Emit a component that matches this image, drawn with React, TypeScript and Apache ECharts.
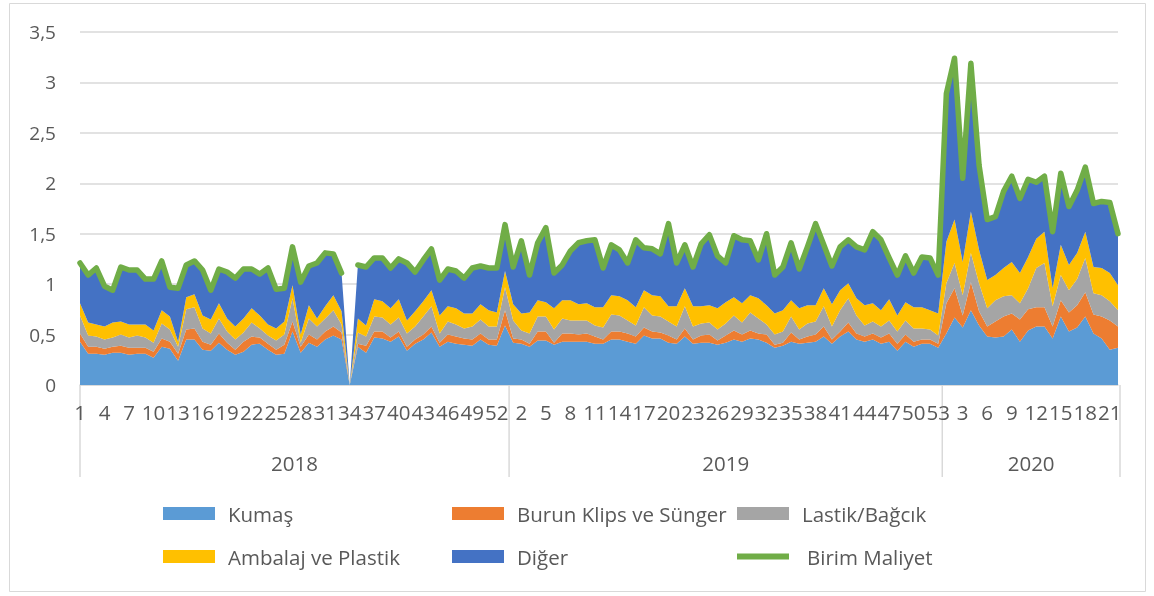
import React, { useEffect, useRef } from "react";
import * as echarts from "echarts";

const years = ["2018", "2019", "2020"];
const weeksPerYear = [53, 53, 22];

const kumas = [
  0.43, 0.31, 0.31, 0.30, 0.32, 0.32, 0.30, 0.31, 0.31, 0.27, 0.38, 0.36, 0.24, 0.45, 0.45, 0.35, 0.34, 0.42, 0.35, 0.30,
  0.33, 0.40, 0.41, 0.35, 0.30, 0.31, 0.53, 0.32, 0.42, 0.38, 0.45, 0.49, 0.45, 0, 0.38, 0.32, 0.47, 0.46, 0.43, 0.48,
  0.34, 0.41, 0.45, 0.52, 0.38, 0.43, 0.41, 0.40, 0.39, 0.45, 0.40, 0.39, 0.59,
  0.42, 0.41, 0.38, 0.44, 0.44, 0.40, 0.43, 0.43, 0.43, 0.43, 0.41, 0.41, 0.45, 0.45, 0.43, 0.41, 0.49, 0.46, 0.46, 0.42,
  0.41, 0.48, 0.41, 0.42, 0.42, 0.40, 0.42, 0.45, 0.43, 0.46, 0.45, 0.42, 0.37, 0.39, 0.43, 0.41, 0.42, 0.43, 0.48, 0.41,
  0.48, 0.53, 0.45, 0.43, 0.45, 0.41, 0.43, 0.34, 0.43, 0.38, 0.41, 0.41, 0.37,
  0.51, 0.67, 0.57, 0.74, 0.59, 0.48, 0.47, 0.48, 0.55, 0.43, 0.54, 0.58, 0.58, 0.46, 0.68, 0.53, 0.57, 0.68, 0.51, 0.46,
  0.35, 0.37,
];
const burun = [
  0.08, 0.07, 0.07, 0.06, 0.06, 0.07, 0.07, 0.06, 0.06, 0.06, 0.08, 0.07, 0.07, 0.10, 0.11, 0.08, 0.06, 0.09, 0.07, 0.05,
  0.10, 0.08, 0.06, 0.06, 0.05, 0.09, 0.10, 0.06, 0.08, 0.07, 0.08, 0.09, 0.07, 0, 0.03, 0.07, 0.06, 0.07, 0.04, 0.05,
  0.04, 0.04, 0.05, 0.06, 0.04, 0.07, 0.07, 0.06, 0.06, 0.06, 0.05, 0.06, 0.15,
  0.04, 0.04, 0.03, 0.09, 0.09, 0.02, 0.08, 0.08, 0.07, 0.08, 0.07, 0.04, 0.08, 0.08, 0.08, 0.07, 0.08, 0.07, 0.06, 0.07,
  0.04, 0.08, 0.04, 0.07, 0.08, 0.04, 0.07, 0.09, 0.07, 0.08, 0.06, 0.08, 0.03, 0.03, 0.09, 0.04, 0.06, 0.07, 0.10, 0.04,
  0.05, 0.09, 0.06, 0.05, 0.06, 0.06, 0.08, 0.07, 0.07, 0.05, 0.04, 0.04, 0.04,
  0.30, 0.29, 0.12, 0.28, 0.14, 0.10, 0.16, 0.20, 0.16, 0.22, 0.21, 0.19, 0.19, 0.12, 0.16, 0.19, 0.22, 0.24, 0.19, 0.22,
  0.29, 0.21,
];
const lastik = [
  0.18, 0.11, 0.10, 0.09, 0.09, 0.11, 0.10, 0.12, 0.10, 0.09, 0.15, 0.12, 0.07, 0.20, 0.21, 0.13, 0.11, 0.15, 0.11, 0.10,
  0.09, 0.14, 0.09, 0.08, 0.09, 0.10, 0.23, 0.04, 0.16, 0.13, 0.13, 0.16, 0.08, 0, 0.11, 0.09, 0.15, 0.14, 0.13, 0.14,
  0.13, 0.13, 0.18, 0.20, 0.09, 0.13, 0.12, 0.10, 0.13, 0.14, 0.13, 0.13, 0.23,
  0.18, 0.09, 0.10, 0.15, 0.15, 0.13, 0.15, 0.13, 0.14, 0.13, 0.11, 0.12, 0.17, 0.16, 0.13, 0.11, 0.20, 0.16, 0.16, 0.14,
  0.13, 0.22, 0.13, 0.12, 0.12, 0.11, 0.12, 0.15, 0.12, 0.18, 0.15, 0.10, 0.10, 0.11, 0.16, 0.10, 0.13, 0.13, 0.20, 0.13,
  0.21, 0.24, 0.18, 0.11, 0.12, 0.11, 0.13, 0.12, 0.14, 0.13, 0.11, 0.10, 0.08,
  0.20, 0.25, 0.20, 0.29, 0.28, 0.18, 0.21, 0.20, 0.18, 0.16, 0.21, 0.39, 0.44, 0.20, 0.25, 0.22, 0.26, 0.34, 0.21, 0.21,
  0.19, 0.16,
];
const ambalaj = [
  0.12, 0.13, 0.12, 0.13, 0.15, 0.13, 0.13, 0.11, 0.13, 0.12, 0.13, 0.13, 0.05, 0.12, 0.13, 0.13, 0.14, 0.15, 0.13, 0.13,
  0.14, 0.14, 0.13, 0.11, 0.12, 0.13, 0.13, 0.08, 0.13, 0.08, 0.12, 0.15, 0.13, 0, 0.14, 0.11, 0.17, 0.16, 0.16, 0.18,
  0.13, 0.15, 0.15, 0.16, 0.18, 0.15, 0.16, 0.15, 0.13, 0.15, 0.16, 0.14, 0.16,
  0.16, 0.17, 0.21, 0.16, 0.14, 0.21, 0.18, 0.20, 0.16, 0.17, 0.18, 0.20, 0.19, 0.19, 0.20, 0.18, 0.17, 0.20, 0.20, 0.15,
  0.20, 0.18, 0.20, 0.17, 0.17, 0.21, 0.21, 0.18, 0.19, 0.17, 0.20, 0.19, 0.21, 0.21, 0.16, 0.21, 0.18, 0.16, 0.18, 0.22,
  0.20, 0.15, 0.17, 0.20, 0.18, 0.16, 0.21, 0.16, 0.18, 0.21, 0.21, 0.19, 0.22,
  0.41, 0.43, 0.33, 0.41, 0.33, 0.28, 0.25, 0.28, 0.33, 0.30, 0.31, 0.29, 0.31, 0.18, 0.30, 0.25, 0.26, 0.26, 0.26, 0.27,
  0.28, 0.25,
];
const diger = [
  0.40, 0.47, 0.56, 0.40, 0.32, 0.54, 0.54, 0.54, 0.45, 0.51, 0.49, 0.29, 0.53, 0.32, 0.33, 0.45, 0.29, 0.34, 0.46, 0.48,
  0.49, 0.39, 0.41, 0.56, 0.39, 0.33, 0.38, 0.52, 0.39, 0.55, 0.53, 0.41, 0.38, 0, 0.53, 0.58, 0.41, 0.43, 0.40, 0.40,
  0.57, 0.39, 0.41, 0.41, 0.35, 0.37, 0.37, 0.35, 0.45, 0.38, 0.42, 0.44, 0.46,
  0.37, 0.72, 0.37, 0.57, 0.74, 0.35, 0.35, 0.49, 0.61, 0.62, 0.67, 0.39, 0.50, 0.46, 0.37, 0.67, 0.42, 0.46, 0.42, 0.82,
  0.43, 0.43, 0.39, 0.62, 0.70, 0.52, 0.39, 0.61, 0.63, 0.54, 0.38, 0.71, 0.38, 0.43, 0.57, 0.39, 0.58, 0.81, 0.43, 0.38,
  0.43, 0.43, 0.51, 0.55, 0.71, 0.70, 0.41, 0.40, 0.46, 0.34, 0.50, 0.52, 0.38,
  1.47, 1.60, 0.83, 1.47, 0.84, 0.60, 0.58, 0.76, 0.85, 0.74, 0.77, 0.56, 0.55, 0.56, 0.71, 0.58, 0.62, 0.64, 0.63, 0.66,
  0.70, 0.51,
];
const birimMaliyet = [
  1.21, 1.09, 1.16, 0.98, 0.94, 1.17, 1.14, 1.14, 1.05, 1.05, 1.23, 0.97, 0.96, 1.19, 1.23, 1.14, 0.94, 1.15, 1.12, 1.06,
  1.15, 1.15, 1.10, 1.16, 0.95, 0.96, 1.37, 1.02, 1.18, 1.21, 1.31, 1.30, 1.11, null, 1.19, 1.17, 1.26, 1.26, 1.16, 1.25,
  1.21, 1.12, 1.24, 1.35, 1.04, 1.15, 1.13, 1.06, 1.16, 1.18, 1.16, 1.16, 1.59,
  1.17, 1.43, 1.09, 1.41, 1.56, 1.11, 1.19, 1.33, 1.41, 1.43, 1.44, 1.16, 1.39, 1.34, 1.21, 1.44, 1.36, 1.35, 1.30, 1.60,
  1.21, 1.39, 1.17, 1.40, 1.49, 1.28, 1.21, 1.48, 1.44, 1.43, 1.24, 1.50, 1.09, 1.17, 1.41, 1.15, 1.37, 1.60, 1.39, 1.18,
  1.37, 1.44, 1.37, 1.34, 1.52, 1.44, 1.26, 1.09, 1.28, 1.11, 1.27, 1.26, 1.09,
  2.89, 3.24, 2.05, 3.19, 2.18, 1.64, 1.67, 1.92, 2.07, 1.85, 2.04, 2.01, 2.07, 1.52, 2.10, 1.77, 1.93, 2.16, 1.80, 1.82,
  1.81, 1.50,
];

const seriesNames = ["Kumaş", "Burun Klips ve Sünger", "Lastik/Bağcık", "Ambalaj ve Plastik", "Diğer", "Birim Maliyet"];
const colors = ["#5B9BD5", "#ED7D31", "#A5A5A5", "#FFC000", "#4472C4", "#70AD47"];
const yTicks = { min: 0, max: 3.5, interval: 0.5 };

const FONT = "'Open Sans', 'Noto Sans', sans-serif";
const TEXT = "#595959";
const GRIDC = "#d9d9d9";

export default function App() {
  const ref = useRef<HTMLDivElement>(null);
  useEffect(() => {
    if (!ref.current) return;
    const chart = echarts.init(ref.current, undefined, { renderer: "svg" });
    const categories: string[] = [];
    weeksPerYear.forEach((n) => {
      for (let w = 1; w <= n; w++) categories.push(String(w));
    });
    const stacks = [kumas, burun, lastik, ambalaj, diger];
    const legendPos = [
      [163, 515],
      [452, 515],
      [737, 515],
      [163, 558],
      [452, 558],
      [737, 558],
    ];
    chart.setOption({
      animation: false,
      grid: { left: 80, right: 36, top: 32, bottom: 211, containLabel: false },
      xAxis: {
        type: "category",
        data: categories,
        boundaryGap: false,
        axisLine: { lineStyle: { color: GRIDC, width: 1.5 } },
        axisTick: { show: false },
        axisLabel: { interval: 2, color: TEXT, fontSize: 20.5, fontFamily: FONT, margin: 16 },
        splitLine: { show: false },
      },
      yAxis: {
        type: "value",
        min: yTicks.min,
        max: yTicks.max,
        interval: yTicks.interval,
        axisLine: { show: false },
        axisTick: { show: false },
        axisLabel: {
          color: TEXT,
          fontSize: 19,
          fontFamily: FONT,
          margin: 24,
          formatter: (v: number) => String(v).replace(".", ","),
        },
        splitLine: { lineStyle: { color: GRIDC, width: 1.5 } },
      },
      legend: seriesNames.map((n, i) => ({
        data: [n],
        left: legendPos[i][0],
        top: legendPos[i][1] - 12,
        padding: 0,
        icon: "rect",
        itemWidth: 52,
        itemHeight: i === 5 ? 6 : 13,
        selectedMode: false,
        itemStyle: { borderWidth: 0 },
        textStyle: { color: TEXT, fontSize: 20.5, fontFamily: FONT, padding: [0, 0, 0, i === 5 ? 13 : 8] },
      })),
      series: [
        ...stacks.map((d, i) => ({
          name: seriesNames[i],
          type: "line",
          stack: "total",
          data: d,
          symbol: "none",
          color: colors[i],
          lineStyle: { width: 0 },
          areaStyle: { color: colors[i], opacity: 1 },
          itemStyle: { color: colors[i] },
        })),
        {
          name: seriesNames[5],
          type: "line",
          data: birimMaliyet,
          symbol: "none",
          color: colors[5],
          connectNulls: false,
          z: 5,
          itemStyle: { color: colors[5] },
          lineStyle: { color: colors[5], width: 5.5, cap: "round", join: "round" },
        },
      ],
    });

    const px = (i: number) => chart.convertToPixel({ xAxisIndex: 0 }, i) as number;
    const y0 = chart.convertToPixel({ yAxisIndex: 0 }, 0) as number;
    const bounds: number[] = [px(0)];
    let acc = 0;
    weeksPerYear.forEach((n, k) => {
      acc += n;
      if (k < weeksPerYear.length - 1) bounds.push((px(acc - 1) + px(acc)) / 2);
      else bounds.push(px(acc - 1) + 2);
    });
    const yBottom = y0 + 92;
    const graphics: any[] = [
      {
        type: "rect",
        shape: { x: 9.5, y: 3.5, width: 1136, height: 588 },
        style: { fill: "none", stroke: GRIDC, lineWidth: 1 },
        silent: true,
      },
    ];
    bounds.forEach((b) => {
      graphics.push({
        type: "line",
        shape: { x1: b, y1: y0, x2: b, y2: yBottom },
        style: { stroke: GRIDC, lineWidth: 1.5 },
        silent: true,
      });
    });
    years.forEach((yr, k) => {
      graphics.push({
        type: "text",
        x: (bounds[k] + bounds[k + 1]) / 2,
        y: y0 + 78,
        style: {
          text: yr,
          fill: TEXT,
          fontSize: 20.5,
          fontFamily: FONT,
          align: "center",
          verticalAlign: "middle",
        },
        silent: true,
      });
    });
    chart.setOption({ graphic: graphics });

    return () => chart.dispose();
  }, []);
  return <div ref={ref} style={{ position: "fixed", left: 0, top: 0, width: 1154, height: 596 }} />;
}
